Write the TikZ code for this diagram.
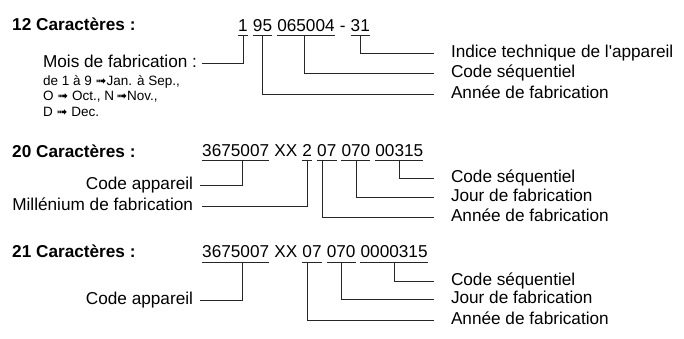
\documentclass[tikz,border=0pt]{standalone}
\usepackage{fontspec}
\newfontfamily\lsans{Liberation Sans}
\newfontfamily\dejavu{DejaVu Sans}
\newlength\spw
\setlength\spw{4.78pt}
\newcommand\undl[1]{\draw[conn] ([yshift=-4.5pt]#1.base west) -- ([yshift=-4.5pt]#1.base east);}
\newcommand\arr{{\dejavu\fontsize{13}{15}\selectfont ➟}}
\begin{document}
\begin{tikzpicture}[x=1pt,y=-1pt,
  every node/.style={inner sep=0pt, font=\lsans\fontsize{17.2}{20}\selectfont},
  title/.style={anchor=base west, font=\lsans\fontsize{17.2}{20}\selectfont\bfseries},
  code/.style={anchor=base west},
  rlab/.style={anchor=west, outer xsep=17pt, text height=11pt, text depth=3pt},
  llab/.style={anchor=east, outer xsep=7pt, text height=11pt, text depth=3pt},
  small/.style={anchor=base west, font=\lsans\fontsize{13.5}{15}\selectfont},
  conn/.style={line width=0.7pt, black!85}]
\useasboundingbox (0,0) rectangle (684,338);

% ---------- 12 caracteres ----------
\node[title] (t12) at (12,30) {12 Caractères :};
\node[code] (c1) at (238,31) {1};
\node[code] (c2) at ([xshift=\spw]c1.base east) {95};
\node[code] (c3) at ([xshift=\spw]c2.base east) {065004};
\node[code] (c4) at ([xshift=\spw]c3.base east) {-};
\node[code] (c5) at ([xshift=\spw]c4.base east) {31};
\undl{c1}\undl{c2}\undl{c3}\undl{c5}

\node[llab, outer xsep=5pt] (mois) at (202,63) {Mois de fabrication :};
\node[small] (m1) at (43,85) {de 1 à 9 \arr Jan. à Sep.,};
\node[small] (m2) at (43,100) {O \arr\ Oct., N\,\arr Nov.,};
\node[small] (m3) at (43,116) {D \arr\ Dec.};

\node[rlab] (ind1) at (434,53) {Indice technique de l'appareil};
\node[rlab] (seq1) at (434,73) {Code séquentiel};
\node[rlab] (ann1) at (434,94) {Année de fabrication};

\draw[conn] ([yshift=-4.5pt]c1.base) |- (mois.east);
\draw[conn] ([yshift=-4.5pt]c2.base) |- (ann1.west);
\draw[conn] ([yshift=-4.5pt,xshift=-2pt]c3.base) |- (seq1.west);
\draw[conn] ([yshift=-4.5pt]c5.base) |- (ind1.west);

% ---------- 20 caracteres ----------
\node[title] (t20) at (12,157) {20 Caractères :};
\node[code] (d1) at (202,156) {3675007};
\node[code] (d2) at ([xshift=\spw]d1.base east) {XX};
\node[code] (d3) at ([xshift=\spw]d2.base east) {2};
\node[code] (d4) at ([xshift=\spw]d3.base east) {07};
\node[code] (d5) at ([xshift=\spw]d4.base east) {070};
\node[code] (d6) at ([xshift=\spw]d5.base east) {00315};
\undl{d1}\undl{d3}\undl{d4}\undl{d5}\undl{d6}

\node[llab] (cap2) at (200,185) {Code appareil};
\node[llab, outer xsep=9pt] (mil2) at (202,206) {Millénium de fabrication};
\node[rlab] (seq2) at (434,178) {Code séquentiel};
\node[rlab] (jour2) at (434,197) {Jour de fabrication};
\node[rlab] (ann2) at (434,217) {Année de fabrication};

\draw[conn] ([yshift=-4.5pt,xshift=7pt]d1.base) |- (cap2.east);
\draw[conn] ([yshift=-4.5pt]d3.base) |- (mil2.east);
\draw[conn] ([yshift=-4.5pt,xshift=-4.5pt]d4.base) |- (ann2.west);
\draw[conn] ([yshift=-4.5pt]d5.base) |- (jour2.west);
\draw[conn] ([yshift=-4.5pt]d6.base) |- (seq2.west);

% ---------- 21 caracteres ----------
\node[title] (t21) at (12,257) {21 Caractères :};
\node[code] (e1) at (202,257.5) {3675007};
\node[code] (e2) at ([xshift=\spw]e1.base east) {XX};
\node[code] (e3) at ([xshift=\spw]e2.base east) {07};
\node[code] (e4) at ([xshift=\spw]e3.base east) {070};
\node[code] (e5) at ([xshift=\spw]e4.base east) {0000315};
\undl{e1}\undl{e3}\undl{e4}\undl{e5}

\node[llab] (cap3) at (200,300) {Code appareil};
\node[rlab] (seq3) at (434,281) {Code séquentiel};
\node[rlab] (jour3) at (434,299) {Jour de fabrication};
\node[rlab] (ann3) at (434,320) {Année de fabrication};

\draw[conn] ([yshift=-4.5pt,xshift=7pt]e1.base) |- (cap3.east);
\draw[conn] ([yshift=-4.5pt,xshift=-5pt]e3.base) |- (ann3.west);
\draw[conn] ([yshift=-4.5pt]e4.base) |- (jour3.west);
\draw[conn] ([yshift=-4.5pt]e5.base) |- (seq3.west);
\end{tikzpicture}
\end{document}
